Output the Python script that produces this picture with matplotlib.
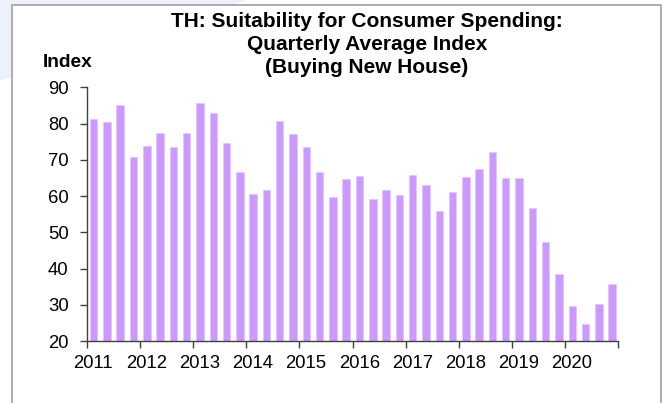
import matplotlib
matplotlib.use("Agg")
import matplotlib.pyplot as plt
from matplotlib.patches import Rectangle, Polygon
import numpy as np

plt.rcParams['font.family'] = ['Liberation Sans', 'DejaVu Sans']

years = [str(y) for y in range(2011, 2021)]
values = [81.2, 80.4, 85.1, 70.7,
          73.8, 77.4, 73.5, 77.3,
          85.8, 83.0, 74.6, 66.6,
          60.5, 61.8, 80.8, 77.2,
          73.6, 66.5, 59.6, 64.6,
          65.5, 59.2, 61.7, 60.2,
          65.8, 63.0, 55.9, 61.0,
          65.2, 67.4, 72.1, 64.9,
          64.9, 56.7, 47.2, 38.6,
          29.7, 24.6, 30.3, 35.7]
title = "TH: Suitability for Consumer Spending:\nQuarterly Average Index\n(Buying New House)"
ylabel = "Index"

W, H = 667, 403
fig = plt.figure(figsize=(W/100, H/100), dpi=100)

# faint watermark shape in top-left
fig.patches.append(Polygon([(0, 1), (0.37, 1), (0, 0.80)], closed=True,
                           transform=fig.transFigure, facecolor='#eef0fa',
                           edgecolor='none', zorder=0))
# outer frame
fig.patches.append(Rectangle((12/W, -0.05), (661-12)/W, 1.05 - 5/H,
                             transform=fig.transFigure, facecolor='white',
                             edgecolor='#a0a0a0', linewidth=1.2, zorder=1))

ax = fig.add_axes([86.7/W, 1-341/H, (618.5-86.7)/W, (341-87.3)/H])
ax.set_zorder(2)
ax.patch.set_alpha(0)

x = np.arange(len(values)) + 0.52
ax.bar(x, np.array(values) - 20, bottom=20, width=0.56, color='#cc99ff',
       edgecolor='#e2c6ff', linewidth=0.6)

ax.set_xlim(0, len(values))
ax.set_ylim(20, 90)
ax.set_yticks(range(20, 91, 10))
ax.set_xticks(np.arange(0, len(values) + 1, 4))
ax.set_xticklabels([])
ax.set_xticks(np.arange(0, len(values), 4) + 0.5, minor=True)
ax.set_xticklabels(years, minor=True)
ax.tick_params(axis='x', which='minor', length=0, pad=10, labelsize=13.3)
ax.tick_params(axis='x', which='major', length=5, width=1, color='#404040', direction='out')
ax.tick_params(axis='y', length=5, width=1, color='#404040', labelsize=13.3, pad=8)
for s in ['top', 'right']:
    ax.spines[s].set_visible(False)
for s in ['left', 'bottom']:
    ax.spines[s].set_color('#404040')
    ax.spines[s].set_linewidth(1)

fig.text(367/W, 1-44.5/H, title, ha='center', va='center', fontsize=15,
         fontweight='bold', linespacing=1.25)
fig.text(43/W, 1-62.5/H, ylabel, ha='left', va='center', fontsize=13.8,
         fontweight='bold')

fig.savefig('out.png', dpi=100)
